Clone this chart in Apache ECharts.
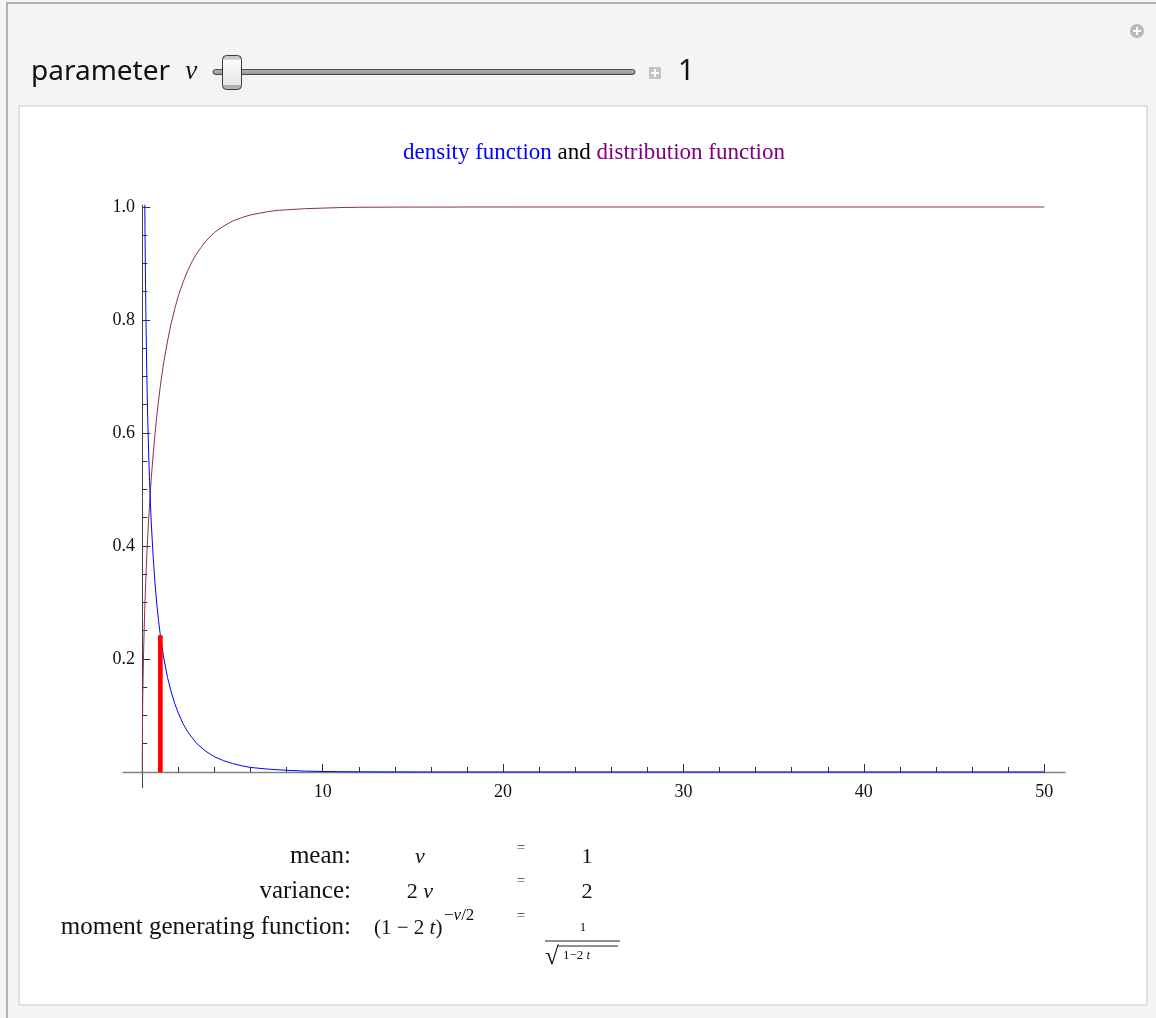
<!DOCTYPE html>
<html>
<head>
<meta charset="utf-8">
<script src="https://cdn.jsdelivr.net/npm/echarts@6/dist/echarts.min.js"></script>
<style>
html,body{margin:0;padding:0;background:#f4f4f4;}
#chart{width:1156px;height:1018px;}
</style>
</head>
<body>
<div id="chart"></div>
<script>
// ---- data (chi-square, nu = 1) ----
const nu = 1;
const densityX = [0.05, 0.1, 0.12, 0.15, 0.18, 0.2, 0.25, 0.3, 0.35, 0.4, 0.45, 0.5, 0.6, 0.7, 0.8, 0.9, 1, 1.1, 1.2, 1.4, 1.6, 1.8, 2, 2.25, 2.5, 2.75, 3, 3.5, 4, 4.5, 5, 5.5, 6, 7, 8, 9, 10, 11, 12, 14, 16, 20, 30, 40, 50];
const densityY = [1.740, 1.200, 1.085, 0.956, 0.859, 0.807, 0.704, 0.627, 0.566, 0.516, 0.475, 0.439, 0.382, 0.336, 0.299, 0.268, 0.242, 0.220, 0.200, 0.167, 0.142, 0.121, 0.104, 0.086, 0.072, 0.061, 0.051, 0.037, 0.027, 0.020, 0.015, 0.011, 0.008, 0.005, 0.003, 0.0015, 0.0009, 0.0005, 0.0003, 0.0001, 0.00003, 0, 0, 0, 0];
const cdfX = [0, 0.002, 0.005, 0.01, 0.02, 0.03, 0.05, 0.07, 0.1, 0.12, 0.15, 0.2, 0.25, 0.3, 0.35, 0.4, 0.45, 0.5, 0.6, 0.7, 0.8, 0.9, 1, 1.1, 1.2, 1.4, 1.6, 1.8, 2, 2.25, 2.5, 2.75, 3, 3.25, 3.5, 4, 4.5, 5, 5.5, 6, 6.5, 7, 7.5, 8, 9, 10, 11, 12, 14, 16, 20, 30, 40, 50];
const cdfY = [0, 0.036, 0.056, 0.080, 0.112, 0.138, 0.177, 0.209, 0.248, 0.271, 0.302, 0.345, 0.383, 0.416, 0.446, 0.473, 0.498, 0.521, 0.561, 0.597, 0.629, 0.657, 0.683, 0.706, 0.727, 0.763, 0.794, 0.820, 0.843, 0.866, 0.886, 0.903, 0.917, 0.928, 0.939, 0.955, 0.966, 0.975, 0.981, 0.986, 0.989, 0.992, 0.994, 0.995, 0.997, 0.998, 0.999, 0.9995, 0.9998, 0.9999, 1, 1, 1, 1];
const meanX = [1, 1];
const meanY = [0, 0.242];
const xMajorTicks = [10, 20, 30, 40, 50];
const xMinorTicks = [2, 4, 6, 8, 12, 14, 16, 18, 22, 24, 26, 28, 32, 34, 36, 38, 42, 44, 46, 48];
const yMajorTicks = [0.2, 0.4, 0.6, 0.8, 1.0];
const yMinorTicks = [0.05, 0.1, 0.15, 0.25, 0.3, 0.35, 0.45, 0.5, 0.55, 0.65, 0.7, 0.75, 0.85, 0.9, 0.95];

const serif = '"Liberation Serif","Times New Roman",serif';
const sans = '"Noto Sans","Open Sans",sans-serif';

const chart = echarts.init(document.getElementById('chart'), null, {renderer: 'canvas'});

const xRange = {min: -1.07, max: 51.15};
const yRange = {min: -0.028, max: 1.003};

function xAxisCfg(ticks, len, labels, showLine) {
  return {
    type: 'value', min: xRange.min, max: xRange.max, position: 'bottom',
    axisLine: {show: showLine, onZero: true, lineStyle: {color: '#808080', width: 1.3}},
    axisTick: {show: true, inside: true, length: len, customValues: ticks, lineStyle: {color: '#333', width: 1}},
    axisLabel: {show: labels, customValues: ticks, margin: -5, fontFamily: serif, fontSize: 18, color: '#111'},
    splitLine: {show: false}
  };
}
function yAxisCfg(ticks, len, labels, showLine) {
  return {
    type: 'value', min: yRange.min, max: yRange.max, position: 'left',
    axisLine: {show: showLine, onZero: true, lineStyle: {color: '#444', width: 1}},
    axisTick: {show: true, inside: true, length: len, customValues: ticks, lineStyle: {color: '#333', width: 1}},
    axisLabel: {show: labels, customValues: ticks, margin: -12, fontFamily: serif, fontSize: 18, color: '#111',
      formatter: v => v.toFixed(1)},
    splitLine: {show: false}
  };
}

const fracLineY = 941;

function txt(x, y, text, font, align, fill) {
  return {type: 'text', silent: true, style: {x: x, y: y, text: text, font: font, fill: fill || '#111',
    align: align || 'left', textAlign: align || 'left', verticalAlign: 'middle', textVerticalAlign: 'middle'}};
}
function rtxt(x, y, text, rich, align) {
  return {type: 'text', silent: true, style: {x: x, y: y, text: text, rich: rich,
    align: align || 'left', textAlign: align || 'left', verticalAlign: 'middle', textVerticalAlign: 'middle'}};
}

chart.setOption({
  animation: false,
  backgroundColor: '#f4f4f4',
  grid: {left: 123, right: 91, top: 205.3, bottom: 230.2, containLabel: false},
  xAxis: [xAxisCfg(xMajorTicks, 8, true, true), xAxisCfg(xMinorTicks, 5, false, false)],
  yAxis: [yAxisCfg(yMajorTicks, 8, true, true), yAxisCfg(yMinorTicks, 5, false, false)],
  graphic: [
    // panel frame
    {type: 'rect', z: -10, silent: true, shape: {x: 19, y: 106, width: 1128, height: 899},
      style: {fill: '#ffffff', stroke: '#c8c8c8', lineWidth: 1}},
    {type: 'line', silent: true, shape: {x1: 6, y1: 3, x2: 1156, y2: 3}, style: {stroke: '#b0b0b0', lineWidth: 2}},
    {type: 'line', silent: true, shape: {x1: 7, y1: 3, x2: 7, y2: 1018}, style: {stroke: '#b0b0b0', lineWidth: 2}},
    // plus icon top right
    {type: 'circle', silent: true, shape: {cx: 1137, cy: 31, r: 7}, style: {fill: '#b9b9b9'}},
    {type: 'rect', silent: true, shape: {x: 1133, y: 30, width: 8, height: 2}, style: {fill: '#fff'}},
    {type: 'rect', silent: true, shape: {x: 1136, y: 27, width: 2, height: 8}, style: {fill: '#fff'}},
    // slider
    rtxt(31, 72, '{n|parameter }{i|ν}', {n: {font: '28px ' + sans, fill: '#111'}, i: {font: 'italic 27px ' + serif, fill: '#111', padding: [0, 0, 0, 8]}}),
    {type: 'rect', silent: true, shape: {x: 213, y: 69.5, width: 422, height: 5, r: 2.5},
      style: {fill: {type: 'linear', x: 0, y: 0, x2: 0, y2: 1, colorStops: [{offset: 0, color: '#bdbdbd'}, {offset: 1, color: '#8a8a8a'}]}, stroke: '#4a4a4a', lineWidth: 1}},
    {type: 'rect', silent: true, shape: {x: 222.5, y: 55.5, width: 19, height: 34, r: 4},
      style: {fill: {type: 'linear', x: 0, y: 0, x2: 0, y2: 1, colorStops: [{offset: 0, color: '#c8c8c8'}, {offset: 0.12, color: '#c8c8c8'}, {offset: 0.14, color: '#fafafa'}, {offset: 0.85, color: '#e6e6e6'}, {offset: 0.87, color: '#b0b0b0'}, {offset: 1, color: '#b0b0b0'}]}, stroke: '#3c3c3c', lineWidth: 1}},
    {type: 'rect', silent: true, shape: {x: 649, y: 67, width: 12, height: 12}, style: {fill: '#c4c4c4'}},
    {type: 'rect', silent: true, shape: {x: 651, y: 72, width: 8, height: 2}, style: {fill: '#fff'}},
    {type: 'rect', silent: true, shape: {x: 654, y: 69, width: 2, height: 8}, style: {fill: '#fff'}},
    txt(678, 72, String(nu), '29px ' + sans),
    // title
    rtxt(594, 153, '{b|density function }{k|and }{p|distribution function}',
      {b: {font: '23px ' + serif, fill: '#0000ff'}, k: {font: '23px ' + serif, fill: '#000'}, p: {font: '23px ' + serif, fill: '#800080'}}, 'center'),
    // property table
    txt(351, 856, 'mean:', '25px ' + serif, 'right'),
    txt(351, 891, 'variance:', '25px ' + serif, 'right'),
    txt(351, 927, 'moment generating function:', '25px ' + serif, 'right'),
    txt(420, 857, 'ν', 'italic 22px ' + serif, 'center'),
    rtxt(420, 892, '{n|2 }{i|ν}', {n: {font: '22px ' + serif, fill: '#111'}, i: {font: 'italic 22px ' + serif, fill: '#111'}}, 'center'),
    rtxt(374, 928, '{n|(1 − 2 }{i|t}{n|)}', {n: {font: '21px ' + serif, fill: '#111'}, i: {font: 'italic 21px ' + serif, fill: '#111'}}),
    rtxt(444, 916, '{n|−}{i|ν}{n|/2}', {n: {font: '17px ' + serif, fill: '#111'}, i: {font: 'italic 17px ' + serif, fill: '#111'}}),
    txt(521, 848, '=', '15px ' + serif, 'center', '#333'),
    txt(521, 881, '=', '15px ' + serif, 'center', '#333'),
    txt(521, 916, '=', '15px ' + serif, 'center', '#333'),
    txt(587, 857, String(nu), '22px ' + serif, 'center'),
    txt(587, 892, String(2 * nu), '22px ' + serif, 'center'),
    txt(583, 928, '1', '13px ' + serif, 'center'),
    {type: 'line', silent: true, shape: {x1: 545, y1: fracLineY, x2: 620, y2: fracLineY}, style: {stroke: '#222', lineWidth: 1}},
    txt(545, 957, '√', '25px ' + serif),
    {type: 'line', silent: true, shape: {x1: 558, y1: 946, x2: 618, y2: 946}, style: {stroke: '#222', lineWidth: 1}},
    rtxt(563, 956, '{n|1−2 }{i|t}', {n: {font: '13px ' + serif, fill: '#111'}, i: {font: 'italic 13px ' + serif, fill: '#111'}})
  ],
  series: [
    {type: 'line', name: 'density', xAxisIndex: 0, yAxisIndex: 0, showSymbol: false, clip: true,
      smooth: false,
      lineStyle: {color: '#0000ff', width: 1}, z: 3,
      data: densityX.map((x, i) => [x, densityY[i]])},
    {type: 'line', name: 'distribution', xAxisIndex: 0, yAxisIndex: 0, showSymbol: false, clip: true,
      smooth: false,
      lineStyle: {color: '#8e2a62', width: 1}, z: 2,
      data: cdfX.map((x, i) => [x, cdfY[i]])},
    {type: 'line', name: 'mean', xAxisIndex: 0, yAxisIndex: 0, showSymbol: false, clip: true,
      lineStyle: {color: '#ff0000', width: 4.7, cap: 'butt'}, z: 4,
      data: meanX.map((x, i) => [x, meanY[i]])}
  ]
});
</script>
</body>
</html>
